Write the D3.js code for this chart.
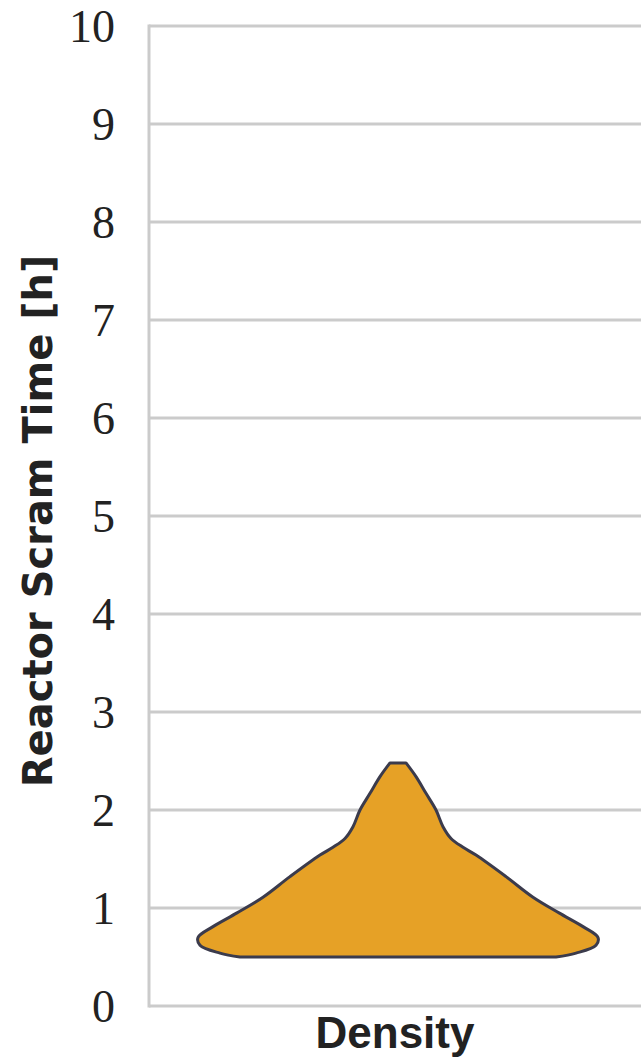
<!DOCTYPE html>
<html>
<head>
<meta charset="utf-8">
<script src="https://cdn.jsdelivr.net/npm/d3@7"></script>
<style>
  html, body { margin: 0; padding: 0; background: #fff; }
  svg { display: block; }
</style>
</head>
<body>
<div id="chart"></div>
<script>
// violin profile: scram time [h] and relative density
const scramTime = [0.50, 0.54, 0.62, 0.70, 0.81, 0.95, 1.11, 1.32, 1.54, 1.62, 1.71, 1.83, 2.00, 2.17, 2.34, 2.48];
const density   = [0.79, 0.89, 0.99, 1.00, 0.925, 0.805, 0.675, 0.54, 0.39, 0.325, 0.265, 0.225, 0.19, 0.14, 0.09, 0.04];
const yTicks = [0, 1, 2, 3, 4, 5, 6, 7, 8, 9, 10];
const category = ["Density"];

const width = 641, height = 1058;
const margin = { top: 26, right: -6, bottom: 52, left: 149 };

const svg = d3.select("#chart").append("svg")
  .attr("width", width)
  .attr("height", height);

const y = d3.scaleLinear()
  .domain([0, 10])
  .range([height - margin.bottom, margin.top]);

const x = d3.scaleBand()
  .domain(category)
  .range([margin.left, width - margin.right]);

const dens = d3.scaleLinear()
  .domain([0, 1])
  .range([0, 200]);

// gridlines
svg.append("g")
  .selectAll("line")
  .data(yTicks)
  .enter()
  .append("line")
  .attr("x1", margin.left)
  .attr("x2", width)
  .attr("y1", d => y(d))
  .attr("y2", d => y(d))
  .attr("stroke", "#cbcbcb")
  .attr("stroke-width", 3);

// left axis line
svg.append("line")
  .attr("x1", margin.left)
  .attr("x2", margin.left)
  .attr("y1", y(10) - 1.5)
  .attr("y2", y(0) + 1.5)
  .attr("stroke", "#cbcbcb")
  .attr("stroke-width", 3);

// tick labels
svg.append("g")
  .selectAll("text")
  .data(yTicks)
  .enter()
  .append("text")
  .attr("x", 115)
  .attr("y", d => y(d))
  .attr("dy", "0.34em")
  .attr("text-anchor", "end")
  .attr("font-family", "'Liberation Serif', serif")
  .attr("font-size", 46)
  .attr("fill", "#222")
  .text(d => d);

// violin
const pts = scramTime.map((v, i) => ({ v, d: density[i] }));
const cx = x(category[0]) + x.bandwidth() / 2;

const area = d3.area()
  .curve(d3.curveCatmullRom.alpha(0.5))
  .y(d => y(d.v))
  .x0(d => cx - dens(d.d))
  .x1(d => cx + dens(d.d));

svg.append("path")
  .datum(pts)
  .attr("d", area)
  .attr("fill", "#e6a126")
  .attr("stroke", "#3b3b4c")
  .attr("stroke-width", 3)
  .attr("stroke-linejoin", "round");

// axis titles
svg.append("text")
  .attr("transform", `translate(52,${(y(0) + y(10)) / 2 + 5}) rotate(-90)`)
  .attr("text-anchor", "middle")
  .attr("font-family", "'DejaVu Sans', sans-serif")
  .attr("font-weight", "bold")
  .attr("font-size", 40)
  .attr("fill", "#222")
  .text("Reactor Scram Time [h]");

svg.append("text")
  .attr("x", cx - 3)
  .attr("y", 1048)
  .attr("text-anchor", "middle")
  .attr("font-family", "'Liberation Sans', sans-serif")
  .attr("font-weight", "bold")
  .attr("font-size", 44)
  .attr("fill", "#222")
  .text("Density");
</script>
</body>
</html>
